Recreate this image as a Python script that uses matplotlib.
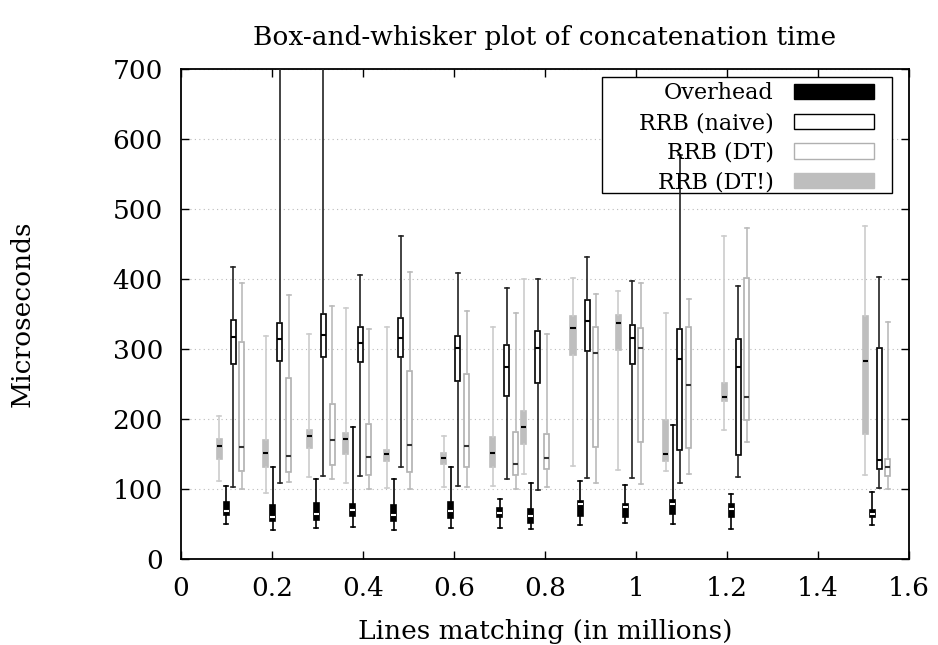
import matplotlib
matplotlib.use("Agg")
import matplotlib.pyplot as plt
from matplotlib.patches import Patch, Rectangle

# lines matching (millions) for each group, read at the Overhead box
positions = [0.099, 0.202, 0.297, 0.378, 0.468, 0.593, 0.701, 0.769, 0.877, 0.976, 1.081, 1.209, 1.519]

# overhead
oh_lo = [50, 41, 45, 46, 41, 44, 44, 43, 48, 51, 50, 43, 48]
oh_q1 = [63, 55, 56, 61, 55, 59, 60, 52, 62, 60, 64, 60, 60]
oh_med = [69, 60, 65, 70, 63, 68, 66, 61, 78, 75, 78, 71, 65]
oh_q3 = [81, 77, 80, 79, 77, 81, 73, 72, 83, 79, 84, 78, 70]
oh_hi = [105, 132, 114, 188, 115, 131, 86, 108, 112, 106, 192, 93, 96]

# RRB (naive)
nv_lo = [103, 108, 118, 118, 131, 104, 115, 99, 116, 116, 108, 117, 101]
nv_q1 = [279, 283, 288, 281, 288, 255, 233, 251, 297, 278, 156, 148, 128]
nv_med = [317, 314, 320, 309, 316, 301, 274, 302, 340, 316, 286, 274, 142]
nv_q3 = [342, 337, 350, 331, 344, 318, 306, 326, 370, 334, 328, 315, 302]
nv_hi = [417, 760, 760, 406, 461, 409, 387, 400, 432, 397, 577, 390, 403]

# RRB (DT)
dt_lo = [100, 110, 114, 100, 100, 103, 100, 103, 108, 107, 121, 167, 100]
dt_q1 = [126, 125, 135, 120, 124, 131, 120, 128, 160, 167, 158, 199, 118]
dt_med = [160, 147, 170, 146, 163, 162, 136, 145, 294, 301, 249, 232, 131]
dt_q3 = [310, 259, 221, 193, 268, 264, 181, 178, 331, 330, 331, 402, 143]
dt_hi = [395, 377, 361, 328, 410, 355, 352, 322, 378, 394, 372, 473, 339]

# RRB (DT!)
dx_lo = [111, 94, 117, 109, 101, 103, 105, 122, 133, 127, 126, 184, 120]
dx_q1 = [143, 131, 158, 150, 140, 136, 132, 165, 292, 298, 140, 226, 178]
dx_med = [162, 152, 176, 172, 150, 144, 151, 189, 330, 337, 150, 232, 283]
dx_q3 = [172, 170, 184, 180, 156, 151, 174, 212, 347, 349, 199, 251, 347]
dx_hi = [205, 319, 321, 358, 331, 176, 332, 400, 401, 383, 351, 462, 476]

labels = ["Overhead", "RRB (naive)", "RRB (DT)", "RRB (DT!)"]

plt.rcParams["font.family"] = ["DejaVu Serif"]


def stats(lo, q1, med, q3, hi):
    return [
        {"whislo": a, "q1": b, "med": c, "q3": d, "whishi": e, "fliers": []}
        for a, b, c, d, e in zip(lo, q1, med, q3, hi)
    ]


fig = plt.figure(figsize=(9.38, 6.45), dpi=100)
ax = fig.add_axes([0.193, 0.1333, 0.776, 0.7597])

W = 0.011
CAP = 0.008
series = [
    # stats, offset, face, edge, whisker colour, median colour
    (stats(dx_lo, dx_q1, dx_med, dx_q3, dx_hi), -0.0154, "#bebebe", "#bebebe", "#cccccc", "black"),
    (stats(oh_lo, oh_q1, oh_med, oh_q3, oh_hi), 0.0, "black", "black", "black", "white"),
    (stats(nv_lo, nv_q1, nv_med, nv_q3, nv_hi), 0.0154, "white", "black", "#222222", "black"),
    (stats(dt_lo, dt_q1, dt_med, dt_q3, dt_hi), 0.035, "white", "#b0b0b0", "#bbbbbb", "#333333"),
]
for st, off, face, edge, wc, mc in series:
    ax.bxp(
        st,
        positions=[p + off for p in positions],
        widths=W,
        capwidths=CAP,
        patch_artist=True,
        showfliers=False,
        manage_ticks=False,
        boxprops=dict(facecolor=face, edgecolor=edge, linewidth=1.2),
        whiskerprops=dict(color=wc, linewidth=1.2),
        capprops=dict(color=wc, linewidth=1.2),
        medianprops=dict(color=mc, linewidth=1.5),
        zorder=3,
    )

ax.set_xlim(0, 1.6)
ax.set_ylim(0, 700)
ax.set_xticks([0, 0.2, 0.4, 0.6, 0.8, 1.0, 1.2, 1.4, 1.6])
ax.set_xticklabels(["0", "0.2", "0.4", "0.6", "0.8", "1", "1.2", "1.4", "1.6"])
ax.set_yticks(range(0, 701, 100))
ax.yaxis.grid(True, linestyle=(0, (1, 3)), color="#bbbbbb", linewidth=0.8, zorder=0)
ax.set_axisbelow(True)
ax.tick_params(direction="in", top=True, right=True, length=6, width=1, labelsize=19)
ax.tick_params(axis="x", pad=12)
ax.tick_params(axis="y", pad=13)
for s in ax.spines.values():
    s.set_linewidth(1.3)

ax.set_xlabel("Lines matching (in millions)", fontsize=19)
ax.set_ylabel("Microseconds", fontsize=19)
ax.xaxis.set_label_coords(0.5, -0.122)
ax.yaxis.set_label_coords(-0.2005, 0.5)
ax.set_title("Box-and-whisker plot of concatenation time", fontsize=19, pad=17)

# legend frame drawn by hand so the padding can match gnuplot's key box
ax.add_patch(Rectangle((0.5783, 0.7469), 0.3983, 0.2368, transform=ax.transAxes,
                       facecolor="white", edgecolor="black", linewidth=1.0, zorder=2))

handles = [
    Patch(facecolor="black", edgecolor="black"),
    Patch(facecolor="white", edgecolor="black"),
    Patch(facecolor="white", edgecolor="#b0b0b0"),
    Patch(facecolor="#bebebe", edgecolor="#bebebe"),
]
leg = ax.legend(
    handles, labels,
    loc="upper right", bbox_to_anchor=(0.9519, 0.973),
    markerfirst=False, frameon=False,
    fontsize=16, handlelength=3.6, handleheight=0.68, labelspacing=0.35,
    borderaxespad=0, borderpad=0, handletextpad=0.9,
)
for t in leg.get_texts():
    t.set_ha("right")

fig.savefig("out.png", dpi=100)
